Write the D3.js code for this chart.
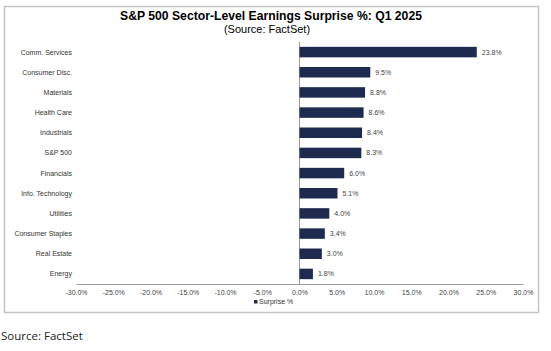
<!DOCTYPE html>
<html>
<head>
<meta charset="utf-8">
<script src="https://cdn.jsdelivr.net/npm/d3@7"></script>
<style>
  body { margin: 0; background: #fff; }
  svg { display: block; }
</style>
</head>
<body>
<div id="chart"></div>
<script>
// chart data
const sectors = ["Comm. Services", "Consumer Disc.", "Materials", "Health Care", "Industrials",
    "S&P 500", "Financials", "Info. Technology", "Utilities", "Consumer Staples", "Real Estate", "Energy"]
const surprise = [23.8, 9.5, 8.8, 8.6, 8.4, 8.3, 6.0, 5.1, 4.0, 3.4, 3.0, 1.8]
const xTicks = [-30, -25, -20, -15, -10, -5, 0, 5, 10, 15, 20, 25, 30]

const width = 551
const height = 351
const barColor = "#1f2a4f"

const svg = d3.select("#chart")
    .append("svg")
    .attr("width", width)
    .attr("height", height)
    .style("font-family", "Arial, 'Liberation Sans', sans-serif")

// outer frame
svg.append("rect")
    .attr("x", 4.5).attr("y", 6.5)
    .attr("width", 534).attr("height", 306)
    .attr("fill", "#fff")
    .attr("stroke", "#c4c4c4")
    .attr("stroke-width", 1.5)

// titles
svg.append("text")
    .attr("x", 271).attr("y", 20)
    .attr("text-anchor", "middle")
    .style("font-size", "12.2px")
    .style("font-weight", "bold")
    .text("S&P 500 Sector-Level Earnings Surprise %: Q1 2025")

svg.append("text")
    .attr("x", 267).attr("y", 33)
    .attr("text-anchor", "middle")
    .style("font-size", "11px")
    .text("(Source: FactSet)")

const x = d3.scaleLinear()
    .domain([-30, 30])
    .range([76, 523])

const y = d3.scaleBand()
    .domain(sectors)
    .range([42, 284])
    .paddingInner(0.48)
    .paddingOuter(0.24)

const data = sectors.map((s, i) => ({ name: s, value: surprise[i] }))

// x axis
const xAxis = svg.append("g")
    .attr("transform", "translate(0,284)")
    .call(d3.axisBottom(x)
        .tickValues(xTicks)
        .tickSize(0)
        .tickPadding(6)
        .tickFormat(d => d.toFixed(1) + "%"))
xAxis.select(".domain").attr("stroke", "#9a9a9a")
xAxis.selectAll("text")
    .attr("fill", "#444")
    .style("font-size", "7px")
    .style("font-family", "Arial, 'Liberation Sans', sans-serif")

// zero line
svg.append("line")
    .attr("x1", x(0)).attr("x2", x(0))
    .attr("y1", 42).attr("y2", 284)
    .attr("stroke", "#9a9a9a")

// category labels
svg.selectAll(".cat")
    .data(data)
    .join("text")
    .attr("class", "cat")
    .attr("x", 72)
    .attr("y", d => y(d.name) + y.bandwidth() / 2)
    .attr("dy", "0.35em")
    .attr("text-anchor", "end")
    .attr("fill", "#333")
    .style("font-size", "7px")
    .text(d => d.name)

// bars
svg.selectAll(".bar")
    .data(data)
    .join("rect")
    .attr("class", "bar")
    .attr("x", x(0))
    .attr("y", d => y(d.name))
    .attr("width", d => x(d.value) - x(0))
    .attr("height", y.bandwidth())
    .attr("fill", barColor)

// value labels
svg.selectAll(".val")
    .data(data)
    .join("text")
    .attr("class", "val")
    .attr("x", d => x(d.value) + 5)
    .attr("y", d => y(d.name) + y.bandwidth() / 2)
    .attr("dy", "0.35em")
    .attr("fill", "#444")
    .style("font-size", "7px")
    .text(d => d.value.toFixed(1) + "%")

// legend
svg.append("rect")
    .attr("x", 254).attr("y", 300)
    .attr("width", 3.5).attr("height", 3.5)
    .attr("fill", barColor)
svg.append("text")
    .attr("x", 259).attr("y", 302)
    .attr("dy", "0.35em")
    .attr("fill", "#333")
    .style("font-size", "7px")
    .text("Surprise %")

// source note
svg.append("text")
    .attr("x", 1).attr("y", 340)
    .style("font-family", "'Open Sans', sans-serif")
    .style("font-size", "11.5px")
    .attr("fill", "#222")
    .text("Source: FactSet")
</script>
</body>
</html>
